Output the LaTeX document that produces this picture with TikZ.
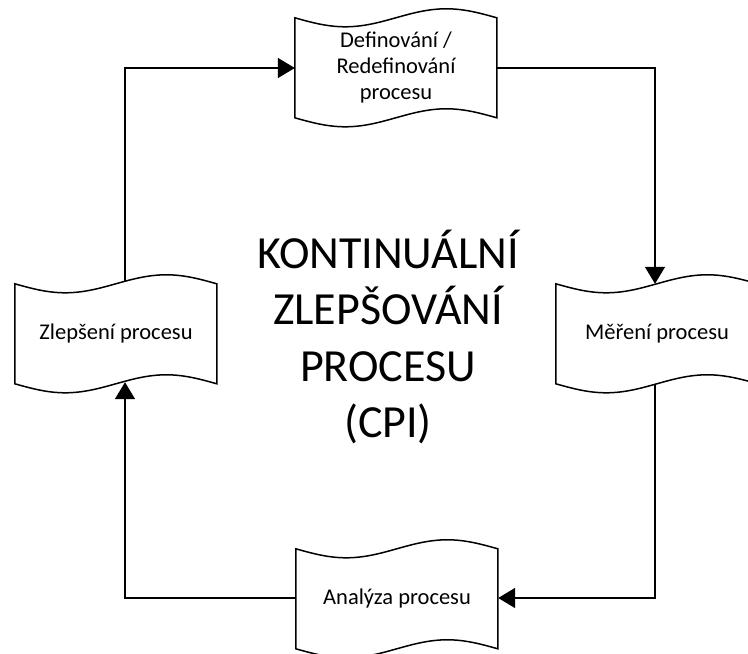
\documentclass[tikz,border=0pt]{standalone}
\usepackage{fontspec}
\setmainfont{Carlito}
\usetikzlibrary{arrows.meta}

\tikzset{
  tape/.style={minimum width=202pt, minimum height=100pt, inner sep=0pt,
    align=center, font=\fontsize{22.5}{26}\selectfont},
  tapeedge/.style={line width=1.5pt, line join=miter},
  flow/.style={line width=1.5pt, -{Triangle[length=17pt, width=20pt]}},
}

\begin{document}
\begin{tikzpicture}[x=1pt, y=1pt]
  \useasboundingbox (0,0) rectangle (748,654);

  % process steps (punched-tape outlines are drawn below)
  \node[tape] (def) at (396,586) {Definování /\\Redefinování\\procesu};
  \node[tape] (mer) at (657,320) {Měření procesu};
  \node[tape] (ana) at (397,55)  {Analýza procesu};
  \node[tape] (zle) at (116,320) {Zlepšení procesu};

  % wavy top and bottom edges
  \foreach \n in {def,mer,ana,zle}{
    \draw[tapeedge] (\n.north west)
      sin ++(50.5,-9) cos ++(50.5,9) sin ++(50.5,9) cos ++(50.5,-9)
      -- ++(0,-100)
      sin ++(-50.5,9) cos ++(-50.5,-9) sin ++(-50.5,-9) cos ++(-50.5,9)
      -- cycle;
  }

  % centre title
  \node[align=center, font=\fontsize{46}{56.5}\selectfont] (title) at (388,317)
    {KONTINUÁLNÍ\\ZLEPŠOVÁNÍ\\PROCESU\\(CPI)};

  % cycle connectors
  \draw[flow] ([xshift=9pt,yshift=2pt]zle.north) |- (def.west);
  \draw[flow] (def.east) -| ([xshift=-2pt]mer.north);
  \draw[flow] ([xshift=-2pt]mer.south) |- ([yshift=1pt]ana.east);
  \draw[flow] ([yshift=1pt]ana.west) -| ([xshift=9pt,yshift=2pt]zle.south);
\end{tikzpicture}
\end{document}
